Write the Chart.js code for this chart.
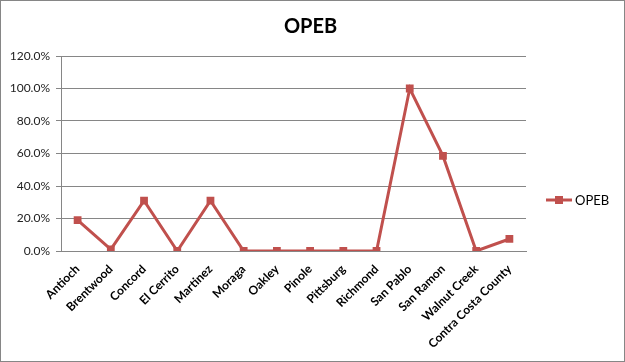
<!DOCTYPE html>
<html>
<head>
<meta charset="utf-8">
<script src="https://cdn.jsdelivr.net/npm/chart.js@4/dist/chart.umd.min.js"></script>
<style>
  html, body { margin: 0; padding: 0; background: #fff; }
  #wrap { width: 625px; height: 362px; box-sizing: border-box; border: 1px solid #868686; background: #fff; }
  canvas { display: block; }
</style>
</head>
<body>
<div id="wrap"><canvas id="c" width="623" height="360"></canvas></div>
<script>
const categories = ["Antioch", "Brentwood", "Concord", "El Cerrito", "Martinez", "Moraga", "Oakley", "Pinole", "Pittsburg", "Richmond", "San Pablo", "San Ramon", "Walnut Creek", "Contra Costa County"];
const opebValues = [0.19, 0.01, 0.31, 0, 0.31, 0, 0, 0, 0, 0, 1.0, 0.585, 0, 0.074];
const yTicks = [0, 0.2, 0.4, 0.6, 0.8, 1.0, 1.2];
const seriesName = "OPEB";
const chartTitle = "OPEB";
const lineColor = "#C0504D";
const gridColor = "#868686";
const FONT = "Lato, 'Open Sans', sans-serif";

const titleAndLegend = {
  id: 'titleAndLegend',
  afterDraw(chart) {
    const ctx = chart.ctx;
    ctx.save();
    // title centred over whole chart
    ctx.fillStyle = "#000";
    ctx.font = "bold 20px " + FONT;
    ctx.textAlign = "center";
    ctx.textBaseline = "middle";
    ctx.fillText(chartTitle, chart.width / 2 - 2, 26);
    // legend
    const x0 = chart.chartArea.right + 20;
    const y = chart.chartArea.top + 144;
    ctx.strokeStyle = lineColor;
    ctx.lineWidth = 3;
    ctx.beginPath();
    ctx.moveTo(x0, y);
    ctx.lineTo(x0 + 26, y);
    ctx.stroke();
    ctx.fillStyle = lineColor;
    ctx.fillRect(x0 + 13 - 4, y - 4, 8, 8);
    ctx.fillStyle = "#000";
    ctx.font = "13px " + FONT;
    ctx.textAlign = "left";
    ctx.fillText(seriesName, x0 + 29, y + 1);
    ctx.restore();
  }
};

new Chart(document.getElementById('c'), {
  type: 'line',
  data: {
    labels: categories,
    datasets: [{
      label: seriesName,
      data: opebValues,
      borderColor: lineColor,
      backgroundColor: lineColor,
      borderWidth: 3,
      pointStyle: 'rect',
      pointRadius: 5.5,
      pointBorderWidth: 0,
      pointBackgroundColor: lineColor,
      tension: 0,
      fill: false
    }]
  },
  options: {
    responsive: false,
    animation: false,
    devicePixelRatio: 1,
    layout: { padding: { left: 0, right: 98, top: 55, bottom: 0 } },
    plugins: {
      legend: { display: false },
      tooltip: { enabled: false },
      title: { display: false }
    },
    scales: {
      x: {
        type: 'category',
        offset: true,
        grid: { display: false },
        border: { display: true, color: gridColor, width: 1 },
        ticks: {
          autoSkip: false,
          minRotation: 45,
          maxRotation: 45,
          padding: 3,
          color: "#000",
          font: { family: FONT, size: 12, weight: 'bold' }
        },
        afterFit(s) { s.height = 110; }
      },
      y: {
        min: 0,
        max: 1.2,
        afterBuildTicks(s) { s.ticks = yTicks.map(v => ({ value: v })); },
        grid: { color: gridColor, lineWidth: 1, tickLength: 5, drawTicks: true },
        border: { display: true, color: gridColor, width: 1 },
        ticks: {
          padding: 6,
          color: "#222",
          font: { family: FONT, size: 12 },
          callback: (v) => (v * 100).toFixed(1) + '%'
        },
        afterFit(s) { s.width = 60; }
      }
    }
  },
  plugins: [titleAndLegend]
});
</script>
</body>
</html>
